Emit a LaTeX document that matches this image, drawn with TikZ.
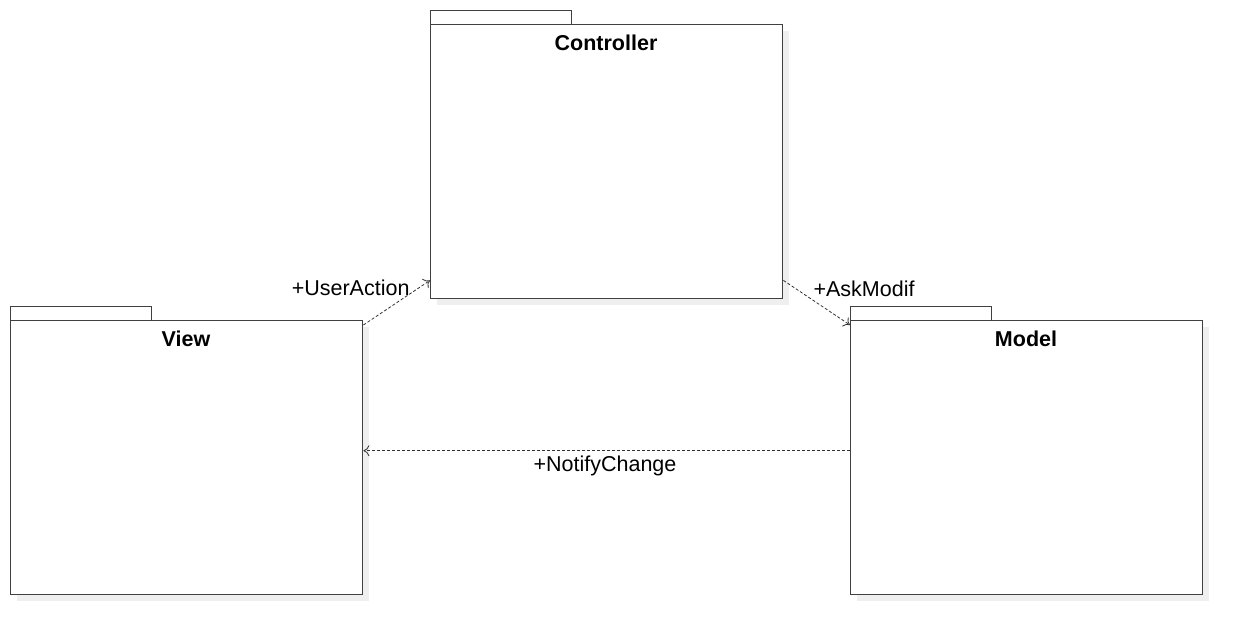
\documentclass[tikz,border=0pt]{standalone}
\usepackage{fontspec}
\setmainfont{Liberation Sans}
\usetikzlibrary{arrows.meta,calc}
\definecolor{boxline}{HTML}{404040}
\definecolor{shadowc}{HTML}{EFEFEF}
\tikzset{
  pkgbody/.style={draw=boxline, line width=1.4pt, fill=white, minimum width=352pt, minimum height=274pt, inner sep=0pt, anchor=north west},
  pkgtab/.style={draw=boxline, line width=1.4pt, fill=white, minimum width=141pt, minimum height=14pt, inner sep=0pt, anchor=north west},
  pkgshadow/.style={fill=shadowc, draw=none, minimum width=352pt, minimum height=274pt, inner sep=0pt, anchor=north west},
  pkgtitle/.style={font=\bfseries\fontsize{21.5}{25}\selectfont, anchor=center},
  dep/.style={densely dashed, draw=black!80, line width=0.8pt, -{To[length=6pt,width=11pt]}},
  lbl/.style={font=\fontsize{21.5}{25}\selectfont}
}
\begin{document}
\begin{tikzpicture}[x=1pt,y=-1pt]
\useasboundingbox (0,0) rectangle (1242,634);
% shadows
\node[pkgshadow] (cshadow) at (437,31) {};
\node[pkgshadow] (vshadow) at (17,327) {};
\node[pkgshadow] (mshadow) at (857,327) {};
% Controller
\node[pkgtab] (ctab) at (430,10) {};
\node[pkgbody] (ctrl) at (430,24) {};
\node[pkgtitle] (ctitle) at (606,43) {Controller};
% View
\node[pkgtab] (vtab) at (10,306) {};
\node[pkgbody] (view) at (10,320) {};
\node[pkgtitle] (vtitle) at (186,339) {View};
% Model
\node[pkgtab] (mtab) at (850,306) {};
\node[pkgbody] (model) at (850,320) {};
\node[pkgtitle] (mtitle) at (1026,339) {Model};
% connectors
\draw[dep] ($(view.north east)+(0,5)$) -- ($(ctrl.south west)+(0,-19)$);
\draw[dep] ($(ctrl.south east)+(0,-19)$) -- ($(model.north west)+(0,5)$);
\draw[dep] ($(model.west)+(0,-7)$) -- ($(view.east)+(0,-7)$);
% labels
\node[lbl, anchor=east] (l1) at (413,288) {+UserAction};
\node[lbl, anchor=west] (l2) at (810,289) {+AskModif};
\node[lbl] (l3) at (605,466) {+NotifyChange};
\end{tikzpicture}
\end{document}
